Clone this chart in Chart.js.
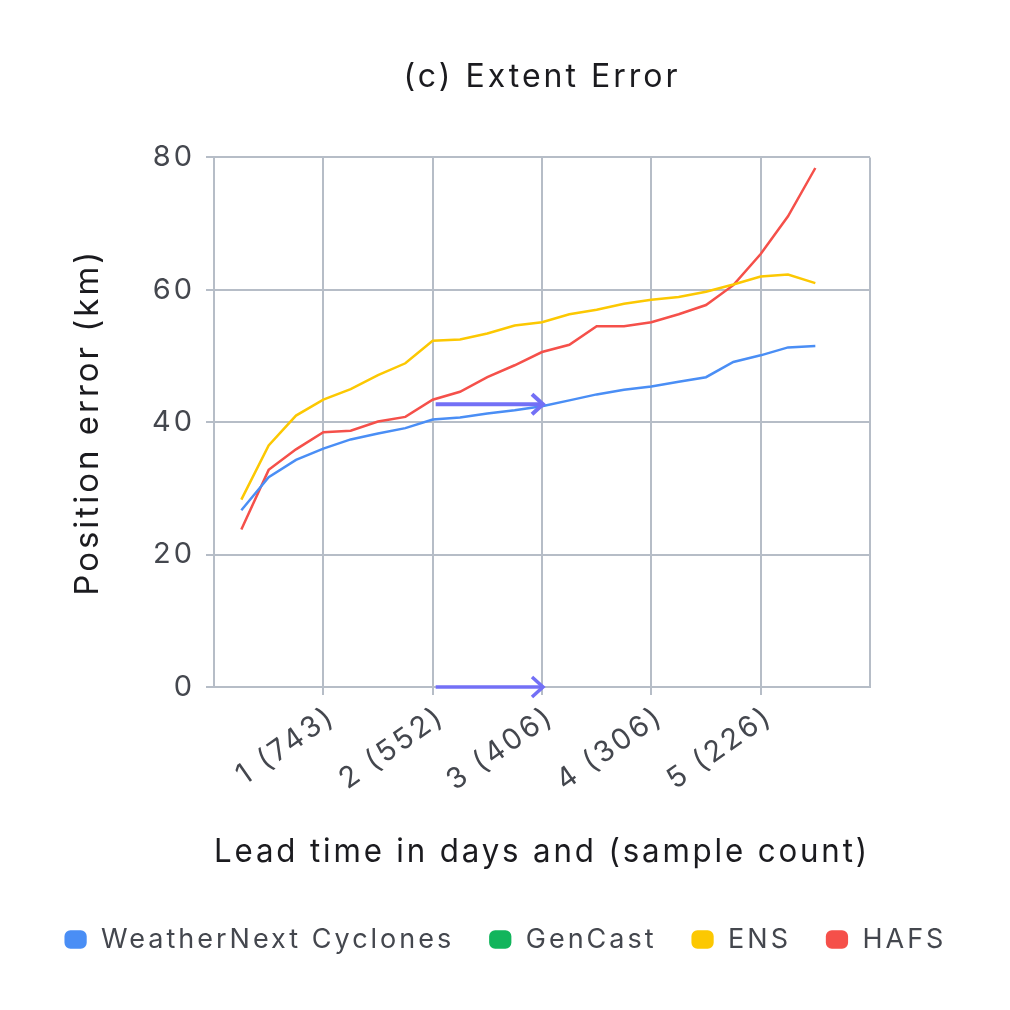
<!DOCTYPE html>
<html>
<head>
<meta charset="utf-8">
<script src="https://cdn.jsdelivr.net/npm/chart.js@4.4.1/dist/chart.umd.min.js"></script>
<style>
  html, body { margin: 0; padding: 0; background: #fff; }
  #wrap { width: 1010px; height: 1010px; }
</style>
</head>
<body>
<div id="wrap"><canvas id="extentChart" width="1010" height="1010"></canvas></div>
<script>
'use strict';

// lead time (days) of every plotted point, 6 h steps
const leadTimes = [0.25, 0.5, 0.75, 1, 1.25, 1.5, 1.75, 2, 2.25, 2.5, 2.75, 3,
    3.25, 3.5, 3.75, 4, 4.25, 4.5, 4.75, 5, 5.25, 5.5];

// tick labels: day and (sample count)
const tickDays = [1, 2, 3, 4, 5];
const sampleCounts = [743, 552, 406, 306, 226];

// series values (km)
const weatherNext = [26.7, 31.7, 34.3, 36.0, 37.4, 38.3, 39.1, 40.4, 40.7, 41.3, 41.8, 42.4,
    43.3, 44.2, 44.9, 45.4, 46.1, 46.8, 49.1, 50.1, 51.3, 51.5];
const genCast = [];
const ens = [28.3, 36.5, 41.0, 43.4, 45.0, 47.1, 48.9, 52.3, 52.5, 53.4, 54.6, 55.1,
    56.3, 57.0, 57.9, 58.5, 58.9, 59.7, 60.8, 62.0, 62.3, 61.0];
const hafs = [23.8, 32.8, 35.9, 38.5, 38.7, 40.1, 40.8, 43.4, 44.6, 46.8, 48.6, 50.6,
    51.7, 54.5, 54.5, 55.1, 56.3, 57.7, 60.7, 65.4, 71.1, 78.4];

// annotation arrows (from day -> to day at a given error value)
const arrowFrom = [2, 2];
const arrowTo = [3, 3];
const arrowAt = [42.7, 0];

const FONT = 'Inter';
const GRID = '#b6bdc7';
const INK = '#1b1b1f';
const GREY = '#44474e';

const toPoints = (vals) => vals.map((v, i) => ({x: leadTimes[i], y: v}));

function lineSet(label, vals, color) {
    return {
        label: label,
        data: toPoints(vals),
        borderColor: color,
        backgroundColor: color,
        borderWidth: 2.5,
        pointRadius: 0,
        tension: 0
    };
}

// wider text like the original, the canvas keeps it in its base state
const spacingPlugin = {
    id: 'spacing',
    beforeInit(chart) { chart.ctx.letterSpacing = '3px'; },
    beforeUpdate(chart) { chart.ctx.letterSpacing = '3px'; },
    beforeDraw(chart) { chart.ctx.letterSpacing = '3px'; }
};

// draws the two horizontal arrows with chevron heads
const arrowPlugin = {
    id: 'arrows',
    afterDatasetsDraw(chart) {
        const ctx = chart.ctx;
        const xs = chart.scales.x;
        const ys = chart.scales.y;
        ctx.save();
        ctx.strokeStyle = '#7370f6';
        ctx.lineCap = 'butt';
        ctx.lineJoin = 'miter';
        for (let i = 0; i < arrowFrom.length; i++) {
            const x0 = xs.getPixelForValue(arrowFrom[i]) + 3;
            const x1 = xs.getPixelForValue(arrowTo[i]) + 1;
            const y = ys.getPixelForValue(arrowAt[i]);
            ctx.lineWidth = i === 0 ? 4 : 3.5;
            ctx.beginPath();
            ctx.moveTo(x0, y);
            ctx.lineTo(x1 - 2, y);
            ctx.stroke();
            ctx.beginPath();
            ctx.moveTo(x1 - 11, y - 10);
            ctx.lineTo(x1, y);
            ctx.lineTo(x1 - 11, y + 10);
            ctx.stroke();
        }
        ctx.restore();
    }
};

const extentChart = new Chart(document.getElementById('extentChart'), {
    type: 'line',
    data: {
        datasets: [
            lineSet('WeatherNext Cyclones', weatherNext, '#4a8ef5'),
            lineSet('GenCast', genCast, '#12b55c'),
            lineSet('ENS', ens, '#fcc802'),
            lineSet('HAFS', hafs, '#f5504a')
        ]
    },
    options: {
        responsive: false,
        devicePixelRatio: 1,
        animation: false,
        layout: {
            padding: {top: 0, left: 0, right: 0, bottom: 47}
        },
        plugins: {
            title: {
                display: true,
                text: '(c) Extent Error',
                fullSize: false,
                color: INK,
                font: {family: FONT, size: 32, weight: 'normal'},
                padding: {top: 58, bottom: 61}
            },
            legend: {
                position: 'bottom',
                labels: {
                    usePointStyle: true,
                    pointStyle: 'rectRounded',
                    pointStyleWidth: 24,
                    boxHeight: 13,
                    padding: 34,
                    color: GREY,
                    font: {family: FONT, size: 27}
                }
            },
            tooltip: {enabled: false}
        },
        scales: {
            x: {
                type: 'linear',
                min: 0,
                max: 6,
                afterBuildTicks(scale) {
                    scale.ticks = [0, 1, 2, 3, 4, 5, 6].map(v => ({value: v}));
                },
                afterFit(scale) {
                    scale.height = 205;
                },
                ticks: {
                    stepSize: 1,
                    autoSkip: false,
                    minRotation: 35,
                    maxRotation: 35,
                    padding: 4,
                    labelOffset: 9,
                    color: GREY,
                    font: {family: FONT, size: 29},
                    callback(value) {
                        const i = tickDays.indexOf(value);
                        return i < 0 ? '' : tickDays[i] + ' (' + sampleCounts[i] + ')';
                    }
                },
                grid: {
                    color: GRID,
                    lineWidth: 2,
                    tickLength: 8,
                    tickColor: (c) => (c.tick && (c.tick.value === 0 || c.tick.value === 6)) ? 'rgba(0,0,0,0)' : GRID
                },
                border: {color: GRID, width: 2},
                title: {
                    display: true,
                    text: 'Lead time in days and (sample count)',
                    color: INK,
                    font: {family: FONT, size: 33},
                    padding: {top: 0, bottom: 20}
                }
            },
            y: {
                min: 0,
                max: 80,
                afterFit(scale) {
                    scale.width = 214;
                },
                ticks: {
                    stepSize: 20,
                    padding: 11,
                    color: GREY,
                    font: {family: FONT, size: 29}
                },
                grid: {
                    color: GRID,
                    lineWidth: 2,
                    tickLength: 8
                },
                border: {color: GRID, width: 2},
                title: {
                    display: true,
                    text: 'Position error (km)',
                    color: INK,
                    font: {family: FONT, size: 33},
                    padding: {top: 68, bottom: 0}
                }
            },
            yRight: {
                position: 'right',
                display: true,
                afterFit(scale) {
                    scale.width = 140;
                },
                ticks: {display: false},
                grid: {display: false, drawTicks: false},
                border: {display: false}
            }
        }
    },
    plugins: [spacingPlugin, arrowPlugin]
});
</script>
</body>
</html>
